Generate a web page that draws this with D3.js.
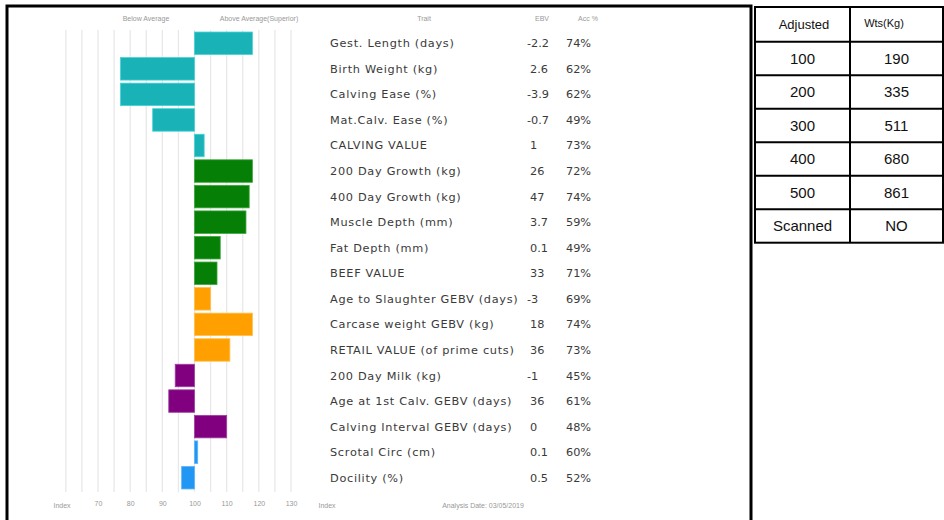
<!DOCTYPE html>
<html><head><meta charset="utf-8">
<script src="https://cdn.jsdelivr.net/npm/d3@7/dist/d3.min.js"></script>
<style>body{margin:0;background:#fff}svg{display:block}</style>
</head><body>
<svg id="c" width="944" height="520"></svg>
<script>
const traits = ["Gest. Length (days)","Birth Weight (kg)","Calving Ease (%)","Mat.Calv. Ease (%)","CALVING VALUE","200 Day Growth (kg)","400 Day Growth (kg)","Muscle Depth (mm)","Fat Depth (mm)","BEEF VALUE","Age to Slaughter GEBV (days)","Carcase weight GEBV (kg)","RETAIL VALUE (of prime cuts)","200 Day Milk (kg)","Age at 1st Calv. GEBV (days)","Calving Interval GEBV (days)","Scrotal Circ (cm)","Docility (%)"];
const indexValues = [118,77,77,87,103,118,117,116,108,107,105,118,111,94,92,110,101,96];
const ebv = ["-2.2","2.6","-3.9","-0.7","1","26","47","3.7","0.1","33","-3","18","36","-1","36","0","0.1","0.5"];
const acc = ["74%","62%","62%","49%","73%","72%","74%","59%","49%","71%","69%","74%","73%","45%","61%","48%","60%","52%"];
const groups = ["calving","calving","calving","calving","calving","beef","beef","beef","beef","beef","retail","retail","retail","maternal","maternal","maternal","other","other"];
const groupNames = ["calving","beef","retail","maternal","other"];
const groupColors = ["#19b3b7","#057f05","#ffa000","#800080","#2196f3"];
const groupStrokes = ["#45d2d6","#3aa83a","#ffc04d","#a040a0","#5ab4ff"];
const axisTicks = [70,80,90,100,110,120,130];
const gridTicks = [60,65,70,75,80,85,90,95,100,105,110,115,120,125,130];
const tableHeader = ["Adjusted","Wts(Kg)"];
const tableLeft = ["100","200","300","400","500","Scanned"];
const tableRight = ["190","335","511","680","861","NO"];

const svg = d3.select("#c");
const x = d3.scaleLinear().domain([70,130]).range([98,291]);
const y = d3.scaleBand().domain(traits).range([31,490]).paddingInner(0.12).paddingOuter(0.04);
const col = d3.scaleOrdinal().domain(groupNames).range(groupColors);
const stk = d3.scaleOrdinal().domain(groupNames).range(groupStrokes);

// panel border
svg.append("rect").attr("x",7).attr("y",6).attr("width",744).attr("height",520).attr("fill","none").attr("stroke","#000").attr("stroke-width",3);

// gridlines
svg.append("g").selectAll("line").data(gridTicks).join("line")
  .attr("x1",d=>x(d)).attr("x2",d=>x(d)).attr("y1",30).attr("y2",492)
  .attr("stroke","#e8e8e8").attr("stroke-width",1.3);

// bars
svg.append("g").selectAll("rect").data(traits).join("rect")
  .attr("x",(d,i)=>x(Math.min(100,indexValues[i])))
  .attr("width",(d,i)=>Math.abs(x(indexValues[i])-x(100)))
  .attr("y",d=>y(d)).attr("height",y.bandwidth())
  .attr("fill",(d,i)=>col(groups[i])).attr("stroke",(d,i)=>stk(groups[i])).attr("stroke-width",0.8);

// header labels
const hdr = svg.append("g").attr("font-family","Liberation Sans, sans-serif").attr("font-size",7).attr("fill","#999").attr("text-anchor","middle");
hdr.append("text").attr("x",146).attr("y",21).text("Below Average");
hdr.append("text").attr("x",259).attr("y",21).text("Above Average(Superior)");
hdr.append("text").attr("x",424).attr("y",21).text("Trait");
hdr.append("text").attr("x",542).attr("y",21).text("EBV");
hdr.append("text").attr("x",588).attr("y",21).text("Acc %");

// axis
const axisG = svg.append("g").attr("transform","translate(0,506)");
const ax = d3.axisBottom(x).tickValues(axisTicks).tickSize(0).tickPadding(0);
axisG.call(ax);
axisG.select(".domain").remove();
axisG.selectAll("text").attr("font-family","Liberation Sans, sans-serif").attr("font-size",7).attr("fill","#999").attr("dy","0");
hdr.append("text").attr("x",62).attr("y",508).text("Index");
hdr.append("text").attr("x",327).attr("y",508).text("Index");
hdr.append("text").attr("x",483).attr("y",508).text("Analysis Date: 03/05/2019");

// trait text
const tg = svg.append("g").attr("font-family","DejaVu Sans, sans-serif").attr("font-size",11.3).attr("fill","#3a3a3a");
tg.selectAll("text.t").data(traits).join("text").attr("class","t")
  .attr("x",330).attr("y",d=>y(d)+y.bandwidth()/2+4).attr("letter-spacing",0.7).text(d=>d);
tg.selectAll("text.e").data(traits).join("text").attr("class","e")
  .attr("x",(d,i)=>ebv[i].startsWith("-")?527:530).attr("y",d=>y(d)+y.bandwidth()/2+4).text((d,i)=>ebv[i]);
tg.selectAll("text.a").data(traits).join("text").attr("class","a")
  .attr("x",566).attr("y",d=>y(d)+y.bandwidth()/2+4).text((d,i)=>acc[i]);

// table
const tx = [755,850,943];
const rowsY = d3.range(0,7).map(i=> i===0?7:41.7+(i-1)*33.5);
rowsY.push(242.7);
const tb = svg.append("g");
tb.append("rect").attr("x",tx[0]).attr("y",7).attr("width",tx[2]-tx[0]).attr("height",242.7-7).attr("fill","none").attr("stroke","#000").attr("stroke-width",2);
tb.selectAll("line.h").data(rowsY.slice(1,-1)).join("line").attr("class","h")
  .attr("x1",tx[0]).attr("x2",tx[2]).attr("y1",d=>d).attr("y2",d=>d).attr("stroke","#000").attr("stroke-width",2);
tb.append("line").attr("x1",tx[1]).attr("x2",tx[1]).attr("y1",7).attr("y2",242.7).attr("stroke","#000").attr("stroke-width",2);
const tt = tb.append("g").attr("font-family","Liberation Sans, sans-serif").attr("fill","#111").attr("text-anchor","middle");
tt.append("text").attr("x",804).attr("y",29).attr("font-size",13).text(tableHeader[0]);
tt.append("text").attr("x",884).attr("y",27).attr("font-size",11).text(tableHeader[1]);
tableLeft.forEach((v,i)=>{
  const cy = (rowsY[i+1]+rowsY[i+2])/2;
  tt.append("text").attr("x",(tx[0]+tx[1])/2).attr("y",cy+5.5).attr("font-size",15).text(v);
  tt.append("text").attr("x",(tx[1]+tx[2])/2).attr("y",cy+5.5).attr("font-size",15).text(tableRight[i]);
});
</script>
</body></html>
